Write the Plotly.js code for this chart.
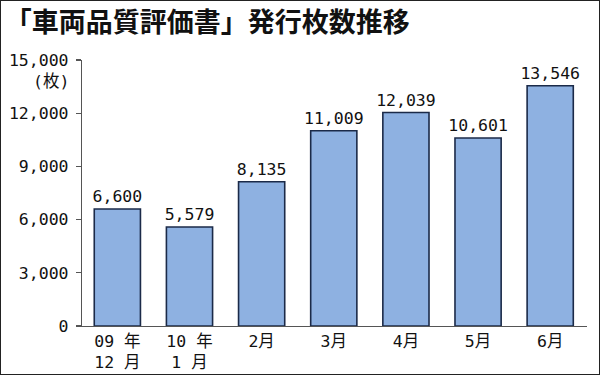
<!DOCTYPE html>
<html><head><meta charset="utf-8">
<script src="https://cdn.plot.ly/plotly-3.0.1.min.js"></script>
<style>
html,body{margin:0;padding:0;background:#fff;}
#wrap{position:relative;width:600px;height:375px;}
#frame{position:absolute;left:0;top:0;width:598px;height:373px;border:1px solid #222;pointer-events:none;}
</style></head>
<body><div id="wrap"><div id="chart" style="width:600px;height:375px;"></div><div id="frame"></div></div>
<script>
const categories = ["09 年<br>12 月", "10 年<br>1 月", "2月", "3月", "4月", "5月", "6月"];
const values = [6600, 5579, 8135, 11009, 12039, 10601, 13546];
const yTicks = [0, 3000, 6000, 9000, 12000, 15000];
const titleText = "「車両品質評価書」発行枚数推移";
const unitText = "(枚)";

const numFont = '"DejaVu Sans Mono", "Noto Sans CJK JP", sans-serif';
const jpFont = '"Noto Sans CJK JP", sans-serif';

const trace = {
  type: 'bar',
  x: categories,
  y: values,
  marker: {color: '#8EB1E1', line: {color: '#1b2a48', width: 1.6}},
  text: values.map(v => v.toLocaleString('en-US')),
  textposition: 'outside',
  constraintext: 'none',
  textfont: {family: numFont, size: 16.5, color: '#111'},
  cliponaxis: false,
  hoverinfo: 'none'
};

const layout = {
  width: 600, height: 375,
  margin: {l: 82, r: 13, t: 60, b: 49, pad: 0},
  paper_bgcolor: '#fff', plot_bgcolor: '#fff',
  showlegend: false,
  bargap: 0.36,
  title: {text: titleText, font: {family: jpFont, size: 27, color: '#111', weight: 600},
          xref: 'container', yref: 'container', x: 0.008, xanchor: 'left', y: 0.94, yanchor: 'middle'},
  xaxis: {type: 'category', range: [-0.49, 6.51], showline: true, linecolor: '#555', linewidth: 1.2,
          ticks: '', showgrid: false, zeroline: false,
          tickfont: {family: numFont, size: 16.5, color: '#111'}, fixedrange: true},
  yaxis: {range: [0, 15000], tickvals: yTicks, tickformat: ',', showline: true, linecolor: '#555', linewidth: 1.2,
          ticks: 'outside', ticklen: 5, tickcolor: '#555', tickwidth: 1.2, showgrid: false, zeroline: false,
          ticklabelstandoff: 4,
          tickfont: {family: numFont, size: 16.5, color: '#111'}, fixedrange: true},
  annotations: [{text: unitText, xref: 'paper', yref: 'y', x: -11/505, y: 13760, xanchor: 'right', yanchor: 'middle',
                 showarrow: false, font: {family: numFont, size: 16.5, color: '#111'}}]
};

Plotly.newPlot('chart', [trace], layout, {staticPlot: true, displayModeBar: false});
</script></body></html>
